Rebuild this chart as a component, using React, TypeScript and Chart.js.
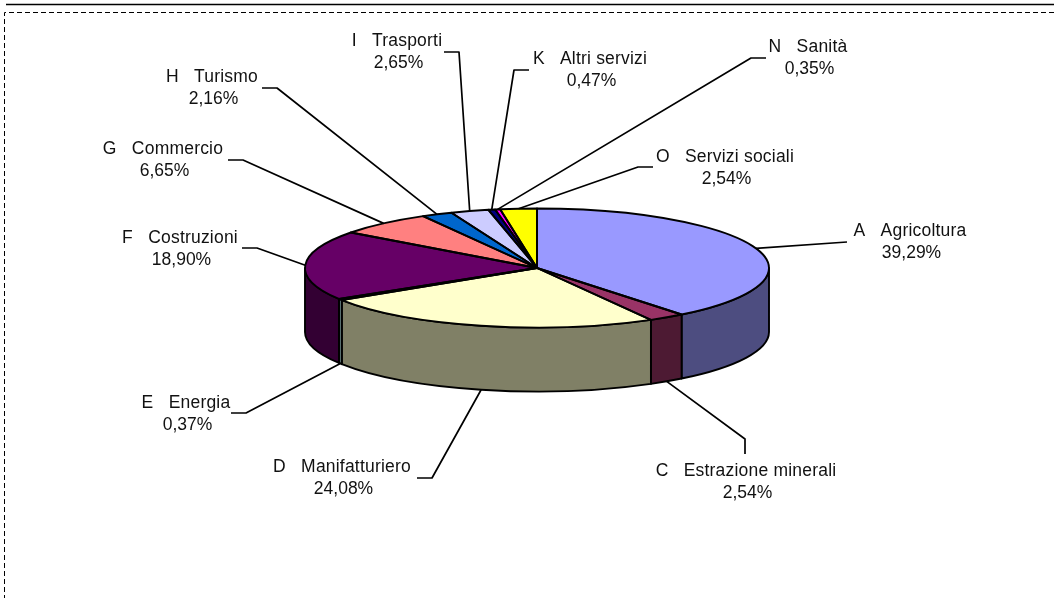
import React, { useEffect, useRef } from "react";
import { Chart, registerables } from "chart.js";

Chart.register(...registerables);

const categories = [
  "A   Agricoltura",
  "C   Estrazione minerali",
  "D   Manifatturiero",
  "E   Energia",
  "F   Costruzioni",
  "G   Commercio",
  "H   Turismo",
  "I   Trasporti",
  "K   Altri servizi",
  "N   Sanità",
  "O   Servizi sociali",
];
const shares = [39.29, 2.54, 24.08, 0.37, 18.9, 6.65, 2.16, 2.65, 0.47, 0.35, 2.54];
const faceColors = ["#9999FF", "#993366", "#FFFFCC", "#CCFFFF", "#660066", "#FF8080", "#0066CC", "#CCCCFF", "#000080", "#FF00FF", "#FFFF00"];
const wallColors = ["#4D4D80", "#4D1A33", "#808066", "#668080", "#330033", "#804040", "#003366", "#666680", "#000040", "#800080", "#808000"];

// label centre (x, first-line y) and the leader's stub + elbow points
const labelCentres = [[910, 230], [746, 470], [342, 466], [186, 402], [180, 237], [163, 148], [212, 76], [397, 40], [590, 58], [808, 46], [725, 156]];
const leaderElbows = [
  [[847, 242]],
  [[745, 454], [745, 439]],
  [[417, 478], [432, 478]],
  [[231, 413], [246, 413]],
  [[242, 248], [257, 248]],
  [[228, 160], [243, 160]],
  [[262, 88], [277, 88]],
  [[444, 52], [459, 52]],
  [[529, 70], [514, 70]],
  [[766, 58], [751, 58]],
  [[653, 167], [638, 167]],
];

const SQUASH = 59.5 / 232;
const DEPTH = 64;
const FONT = '17.5px "Liberation Sans", Arial, sans-serif';

const pie3d = {
  id: "pie3d",
  beforeDraw(chart: any) {
    const { ctx, width, height } = chart;
    ctx.save();
    ctx.fillStyle = "#fff";
    ctx.fillRect(0, 0, width, height);
    ctx.strokeStyle = "#000";
    ctx.lineWidth = 1.3;
    ctx.beginPath();
    ctx.moveTo(6, 4.5);
    ctx.lineTo(width, 4.5);
    ctx.stroke();
    ctx.lineWidth = 1;
    ctx.setLineDash([5, 3]);
    ctx.beginPath();
    ctx.moveTo(width, 12.5);
    ctx.lineTo(4.5, 12.5);
    ctx.lineTo(4.5, height);
    ctx.stroke();
    ctx.restore();
  },
  beforeDatasetsDraw(chart: any) {
    const { ctx } = chart;
    const arcs = chart.getDatasetMeta(0).data;
    const { x: cx, y: cy, outerRadius: rx } = arcs[0];
    const ry = rx * SQUASH;
    ctx.save();
    ctx.lineWidth = 1.9;
    ctx.strokeStyle = "#000";
    ctx.lineJoin = "round";
    arcs.forEach((arc: any, i: number) => {
      const a0 = Math.max(arc.startAngle, 0);
      const a1 = Math.min(arc.endAngle, Math.PI);
      if (a1 <= a0) return;
      ctx.beginPath();
      ctx.ellipse(cx, cy, rx, ry, 0, a0, a1);
      ctx.lineTo(cx + rx * Math.cos(a1), cy + ry * Math.sin(a1) + DEPTH);
      ctx.ellipse(cx, cy + DEPTH, rx, ry, 0, a1, a0, true);
      ctx.closePath();
      ctx.fillStyle = wallColors[i];
      ctx.fill();
      ctx.stroke();
    });
    ctx.restore();
    ctx.save();
    ctx.translate(cx, cy);
    ctx.scale(1, SQUASH);
    ctx.translate(-cx, -cy);
  },
  afterDatasetsDraw(chart: any) {
    const { ctx } = chart;
    ctx.restore();
    const arcs = chart.getDatasetMeta(0).data;
    const { x: cx, y: cy, outerRadius: rx } = arcs[0];
    const ry = rx * SQUASH;
    ctx.save();
    ctx.strokeStyle = "#000";
    ctx.lineWidth = 1.9;
    ctx.lineJoin = "round";
    arcs.forEach((arc: any) => {
      ctx.beginPath();
      ctx.moveTo(cx, cy);
      ctx.ellipse(cx, cy, rx, ry, 0, arc.startAngle, arc.endAngle);
      ctx.closePath();
      ctx.stroke();
    });
    ctx.lineWidth = 1.7;
    arcs.forEach((arc: any, i: number) => {
      const mid = (arc.startAngle + arc.endAngle) / 2;
      const front = Math.sin(mid) > 0;
      const ex = cx + rx * Math.cos(mid);
      const ey = cy + ry * Math.sin(mid) + (front ? DEPTH : 0);
      ctx.beginPath();
      leaderElbows[i].forEach((p: number[], k: number) => (k ? ctx.lineTo(p[0], p[1]) : ctx.moveTo(p[0], p[1])));
      ctx.lineTo(ex, ey);
      ctx.stroke();
    });
    ctx.fillStyle = "#111";
    ctx.font = FONT;
    ctx.textAlign = "center";
    ctx.textBaseline = "middle";
    categories.forEach((name, i) => {
      const [x, y] = labelCentres[i];
      ctx.letterSpacing = "0.2px";
      ctx.fillText(name, x, y + 1);
      ctx.letterSpacing = "0px";
      ctx.fillText(shares[i].toFixed(2).replace(".", ",") + "%", x + 1.5, y + 23);
    });
    ctx.restore();
  },
};

export default function App() {
  const ref = useRef<HTMLCanvasElement>(null);
  useEffect(() => {
    const chart = new Chart(ref.current as HTMLCanvasElement, {
      type: "pie",
      data: {
        labels: categories,
        datasets: [{ data: shares, backgroundColor: faceColors, borderWidth: 0 }],
      },
      options: {
        animation: false,
        responsive: false,
        layout: { padding: { left: 305, right: 285, top: 36, bottom: 98 } },
        plugins: { legend: { display: false }, tooltip: { enabled: false } },
      },
      plugins: [pie3d],
    } as any);
    return () => chart.destroy();
  }, []);
  return (
    <div style={{ position: "absolute", left: 0, top: 0, width: 1054, height: 598 }}>
      <canvas ref={ref} width={1054} height={598} style={{ display: "block" }} />
    </div>
  );
}
